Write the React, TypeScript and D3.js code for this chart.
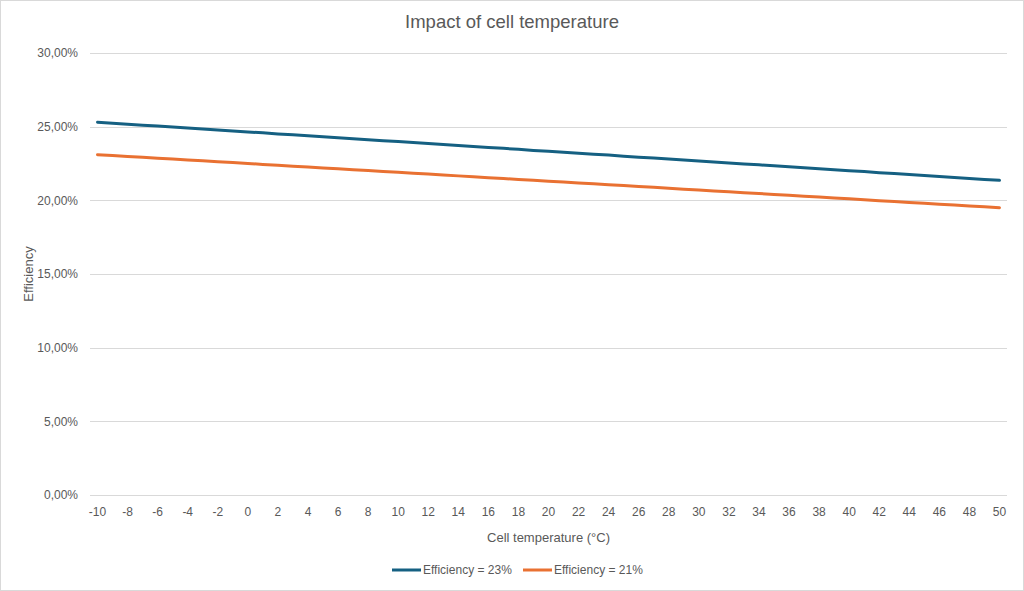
import { useRef, useEffect } from "react";
import * as d3 from "d3";

const temperatures = d3.range(-10, 51).map((t) => String(t));

const eff23 = [
  25.30, 25.23, 25.17, 25.10, 25.04, 24.97, 24.91, 24.84, 24.77, 24.71, 24.64,
  24.58, 24.51, 24.45, 24.38, 24.31, 24.25, 24.18, 24.12, 24.05, 23.99,
  23.92, 23.85, 23.79, 23.72, 23.66, 23.59, 23.53, 23.46, 23.39, 23.33,
  23.26, 23.20, 23.13, 23.07, 23.00, 22.93, 22.87, 22.80, 22.74, 22.67,
  22.61, 22.54, 22.47, 22.41, 22.34, 22.28, 22.21, 22.15, 22.08, 22.01,
  21.95, 21.88, 21.82, 21.75, 21.69, 21.62, 21.55, 21.49, 21.42, 21.36,
];

const eff21 = [
  23.10, 23.04, 22.98, 22.92, 22.86, 22.80, 22.74, 22.68, 22.62, 22.56, 22.50,
  22.44, 22.38, 22.32, 22.26, 22.20, 22.14, 22.08, 22.02, 21.96, 21.90,
  21.84, 21.78, 21.72, 21.66, 21.60, 21.54, 21.48, 21.42, 21.36, 21.30,
  21.24, 21.18, 21.12, 21.06, 21.00, 20.94, 20.88, 20.82, 20.76, 20.70,
  20.64, 20.58, 20.52, 20.46, 20.40, 20.34, 20.28, 20.22, 20.16, 20.10,
  20.04, 19.98, 19.92, 19.86, 19.80, 19.74, 19.68, 19.62, 19.56, 19.50,
];

const yTicks = [0, 5, 10, 15, 20, 25, 30];

const seriesNames = ["Efficiency = 23%", "Efficiency = 21%"];
const seriesColors = ["#156082", "#E97132"];

const W = 1024;
const H = 591;
const FONT = "'Liberation Sans', Arial, sans-serif";
const TEXT = "#595959";

export default function App() {
  const svgRef = useRef<SVGSVGElement | null>(null);

  useEffect(() => {
    if (!svgRef.current) return;
    const svg = d3.select(svgRef.current);
    svg.selectAll("*").remove();

    const left = 90;
    const right = 1007;
    const top = 53;
    const bottom = 495;

    const x = d3.scalePoint<string>().domain(temperatures).range([left, right]).padding(0.5);
    const y = d3.scaleLinear().domain([0, 30]).range([bottom, top]);

    // background + border
    svg.append("rect")
      .attr("x", 0.5).attr("y", 0.5)
      .attr("width", W - 1).attr("height", H - 1)
      .attr("fill", "#fff").attr("stroke", "#d9d9d9");

    // gridlines
    svg.append("g")
      .selectAll("line")
      .data(yTicks)
      .join("line")
      .attr("x1", left).attr("x2", right)
      .attr("y1", (d) => Math.round(y(d)) + 0.5)
      .attr("y2", (d) => Math.round(y(d)) + 0.5)
      .attr("stroke", "#d9d9d9")
      .attr("stroke-width", 1);

    // y labels
    svg.append("g")
      .selectAll("text")
      .data(yTicks)
      .join("text")
      .attr("x", 78)
      .attr("y", (d) => y(d))
      .attr("dy", "0.35em")
      .attr("text-anchor", "end")
      .attr("font-family", FONT)
      .attr("font-size", 12)
      .attr("fill", TEXT)
      .text((d) => d3.format(".2f")(d).replace(".", ",") + "%");

    // x labels every 2
    svg.append("g")
      .selectAll("text")
      .data(temperatures.filter((_, i) => i % 2 === 0))
      .join("text")
      .attr("x", (d) => x(d)!)
      .attr("y", 516)
      .attr("text-anchor", "middle")
      .attr("font-family", FONT)
      .attr("font-size", 12)
      .attr("fill", TEXT)
      .text((d) => d);

    // lines
    const line = d3.line<number>()
      .x((_, i) => x(temperatures[i])!)
      .y((d) => y(d));

    [eff23, eff21].forEach((vals, i) => {
      svg.append("path")
        .datum(vals)
        .attr("d", line)
        .attr("fill", "none")
        .attr("stroke", seriesColors[i])
        .attr("stroke-width", 3)
        .attr("stroke-linecap", "round");
    });

    // title
    svg.append("text")
      .attr("x", W / 2).attr("y", 28)
      .attr("text-anchor", "middle")
      .attr("font-family", FONT)
      .attr("font-size", 18.5)
      .attr("fill", TEXT)
      .text("Impact of cell temperature");

    // axis titles
    svg.append("text")
      .attr("x", (left + right) / 2).attr("y", 542)
      .attr("text-anchor", "middle")
      .attr("font-family", FONT)
      .attr("font-size", 13)
      .attr("fill", TEXT)
      .text("Cell temperature (°C)");

    svg.append("text")
      .attr("transform", `translate(33, ${(top + bottom) / 2}) rotate(-90)`)
      .attr("text-anchor", "middle")
      .attr("font-family", FONT)
      .attr("font-size", 13)
      .attr("fill", TEXT)
      .text("Efficiency");

    // legend
    const legendX = [392, 523];
    seriesNames.forEach((name, i) => {
      const g = svg.append("g").attr("transform", `translate(${legendX[i]}, 570)`);
      g.append("line")
        .attr("x1", 0).attr("x2", 29)
        .attr("stroke", seriesColors[i])
        .attr("stroke-width", 3);
      g.append("text")
        .attr("x", 31).attr("dy", "0.35em")
        .attr("font-family", FONT)
        .attr("font-size", 12)
        .attr("fill", TEXT)
        .text(name);
    });
  }, []);

  return (
    <>
      <style>{`body{margin:0}`}</style>
      <svg ref={svgRef} width={W} height={H} style={{ display: "block" }} />
    </>
  );
}
